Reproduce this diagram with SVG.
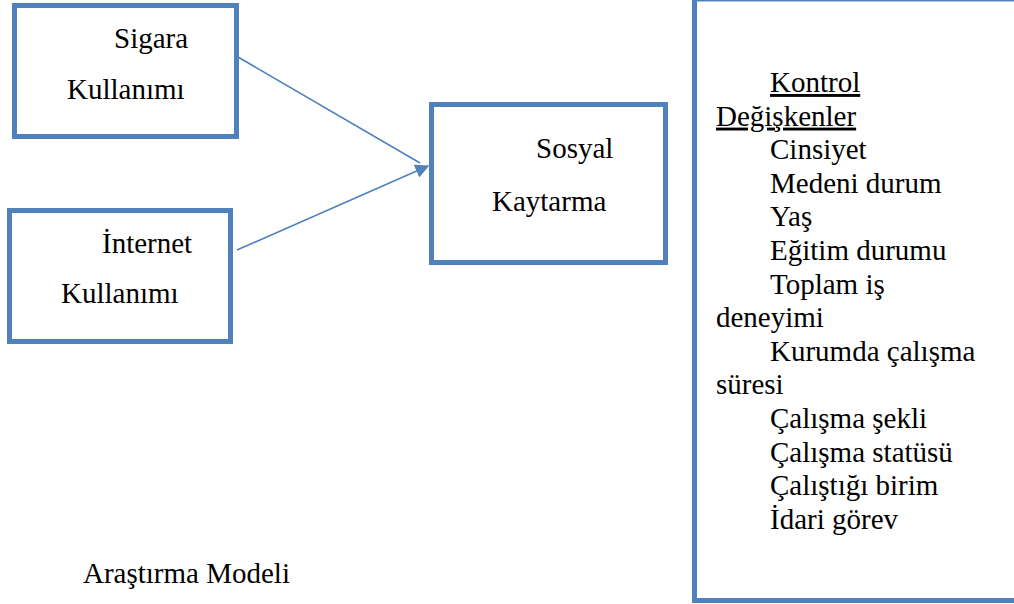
<svg xmlns="http://www.w3.org/2000/svg" width="1014" height="604" viewBox="0 0 1014 604">
<style>
.box{fill:#fff;stroke:#4F81BD;stroke-width:5}
.conn{stroke:#4F81BD;stroke-width:1.6;fill:none}
text{font-family:'Liberation Serif','Times New Roman',serif;font-size:29px;fill:#000}
.u{text-decoration:underline}
</style>
<defs>
<marker id="arrB" viewBox="0 0 10 10" refX="9" refY="5" markerWidth="14" markerHeight="14" markerUnits="userSpaceOnUse" orient="auto">
<path d="M0,0 L10,5 L0,10 z" fill="#4F81BD"/>
</marker>
</defs>
<rect width="1014" height="604" fill="#fff"/>
<g id="connectors">
<line class="conn" x1="238" y1="57" x2="420" y2="163"/>
<line class="conn" x1="237" y1="250" x2="428" y2="166" marker-end="url(#arrB)"/>
</g>
<g id="sigara">
<rect class="box" x="14.5" y="5.5" width="222" height="131"/>
<text x="114" y="48" font-family="Liberation Serif">Sigara</text>
<text x="67" y="99" font-family="Liberation Serif">Kullanımı</text>
</g>
<g id="internet">
<rect class="box" x="9.5" y="210.5" width="221" height="131"/>
<text x="102" y="253" font-family="Liberation Serif">İnternet</text>
<text x="61" y="303" font-family="Liberation Serif">Kullanımı</text>
</g>
<g id="sosyal">
<rect class="box" x="431.5" y="104.5" width="234" height="158"/>
<text x="536" y="158" font-family="Liberation Serif">Sosyal</text>
<text x="492" y="211" font-family="Liberation Serif">Kaytarma</text>
</g>
<g id="kontrol">
<rect class="box" x="694.5" y="-1" width="340" height="601.5"/>
<text class="u" x="770" y="92" font-family="Liberation Serif">Kontrol</text>
<text class="u" x="716" y="125.6" font-family="Liberation Serif">Değişkenler</text>
<text x="770" y="159.2" font-family="Liberation Serif">Cinsiyet</text>
<text x="770" y="192.8" font-family="Liberation Serif">Medeni durum</text>
<text x="770" y="226.4" font-family="Liberation Serif">Yaş</text>
<text x="770" y="260" font-family="Liberation Serif">Eğitim durumu</text>
<text x="770" y="293.6" font-family="Liberation Serif">Toplam iş</text>
<text x="716" y="327.2" font-family="Liberation Serif">deneyimi</text>
<text x="770" y="360.8" font-family="Liberation Serif">Kurumda çalışma</text>
<text x="716" y="394.4" font-family="Liberation Serif">süresi</text>
<text x="770" y="428" font-family="Liberation Serif">Çalışma şekli</text>
<text x="770" y="461.6" font-family="Liberation Serif">Çalışma statüsü</text>
<text x="770" y="495.2" font-family="Liberation Serif">Çalıştığı birim</text>
<text x="770" y="528.8" font-family="Liberation Serif">İdari görev</text>
</g>
<text id="caption" x="83" y="583" font-family="Liberation Serif">Araştırma Modeli</text>
</svg>
